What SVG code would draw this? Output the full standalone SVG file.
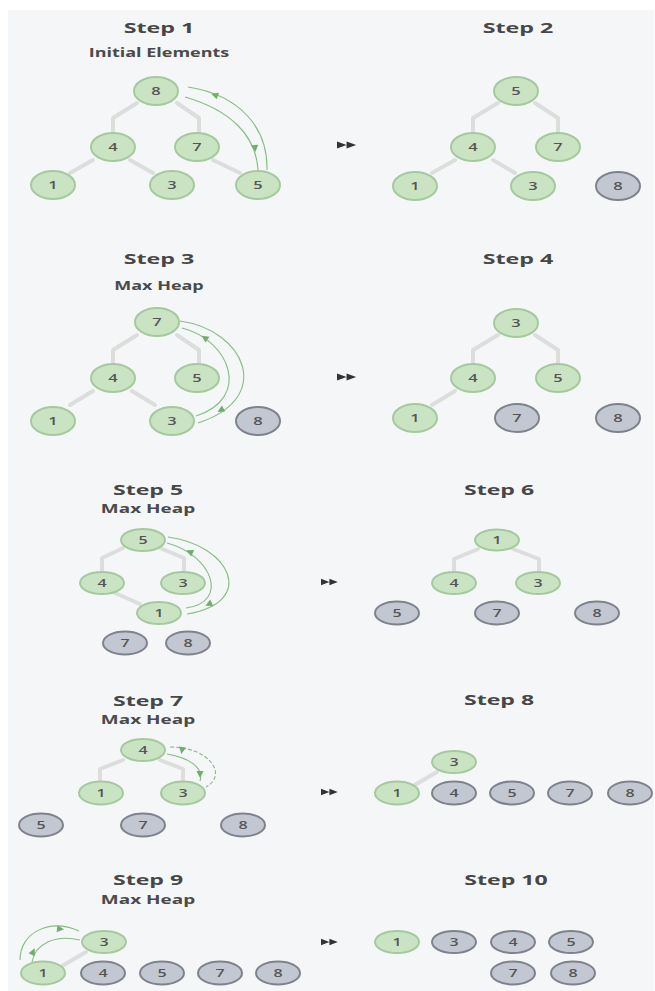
<svg xmlns="http://www.w3.org/2000/svg" xmlns:xlink="http://www.w3.org/1999/xlink" width="655" height="991" viewBox="0 0 655 991">
<style>
.bg{fill:#f5f6f8}
.edge{fill:none;stroke:#dcdedc;stroke-width:4;stroke-linejoin:round;stroke-linecap:round}
.arc{fill:none;stroke:#85bd83;stroke-width:1.1}
.ah{fill:#6fae6d}
.ff{fill:#333}
.g ellipse{fill:#cae3c3;stroke:#a5c99e;stroke-width:2}
.x ellipse{fill:#c3c7d1;stroke:#7e828c;stroke-width:2}
text{font-family:"Open Sans","DejaVu Sans",sans-serif;text-anchor:middle}
.t{font-size:15px;font-weight:700;fill:#474747}
.st{font-size:12px;font-weight:700;fill:#4a4a4a}
.t2{font-size:14px;font-weight:700;fill:#474747}
.st2{font-size:11.5px;font-weight:700;fill:#4a4a4a}
.n{font-size:11px;font-weight:600;fill:#555}
.n2{font-size:10px;font-weight:600;fill:#555}
</style>
<defs>
<path id="ah" d="M4,0 L-3,-3.5 L-3,3.5 Z"/>
<path id="ff" d="M0,-4 L8,0 L0,4 Z M8,-4 L16,0 L8,4 Z"/>
</defs>
<rect x="0" y="0" width="655" height="991" fill="#ffffff"/>
<rect class="bg" x="8" y="10" width="646" height="981"/>

<g id="titles">
<text class="t" transform="translate(159,33) scale(1.55,1)">Step 1</text>
<text class="st" transform="translate(159,57) scale(1.5,1)">Initial Elements</text>
<text class="t" transform="translate(518,33) scale(1.55,1)">Step 2</text>
<text class="t" transform="translate(159,264) scale(1.55,1)">Step 3</text>
<text class="st" transform="translate(159,290) scale(1.5,1)">Max Heap</text>
<text class="t" transform="translate(518,264) scale(1.55,1)">Step 4</text>
<text class="t2" transform="translate(148,495) scale(1.65,1)">Step 5</text>
<text class="st2" transform="translate(148,513) scale(1.65,1)">Max Heap</text>
<text class="t2" transform="translate(499,495) scale(1.65,1)">Step 6</text>
<text class="t2" transform="translate(148,706) scale(1.65,1)">Step 7</text>
<text class="st2" transform="translate(148,724) scale(1.65,1)">Max Heap</text>
<text class="t2" transform="translate(499,705) scale(1.65,1)">Step 8</text>
<text class="t2" transform="translate(148,885) scale(1.65,1)">Step 9</text>
<text class="st2" transform="translate(148,904) scale(1.65,1)">Max Heap</text>
<text class="t2" transform="translate(506,885) scale(1.65,1)">Step 10</text>
</g>

<g id="connectors">
<path class="edge" d="M137,103 L113,118 L113,133 M177,103 L199,118 L199,133 M93,160 L70,173 M130,160 L153,173 M213,160 L240,173"/>
<path class="edge" d="M498,103 L473,118 L473,133 M535,103 L558,118 L558,133 M455,160 L432,173 M493,160 L515,173"/>
<path class="edge" d="M137,335 L113,350 L113,364 M177,335 L199,350 L199,364 M93,391 L70,405 M132,391 L155,405"/>
<path class="edge" d="M498,335 L473,350 L473,364 M535,335 L558,350 L558,364 M455,391 L432,405"/>
<path class="edge" d="M123,548 L102,558 L102,571 M160,548 L184,558 L184,571 M115,593 L140,604"/>
<path class="edge" d="M478,549 L454,559 L454,571 M513,549 L539,559 L539,571"/>
<path class="edge" d="M123,760 L100,769 L100,781 M160,760 L183,769 L183,781"/>
<path class="edge" d="M437,772 L413,786"/>
<path class="edge" d="M86,952 L62,966"/>

<path class="arc" d="M188,87 C240,95 268,128 267,170"/>
<path class="arc" d="M185,97 C230,110 256,135 258,170"/>
<use href="#ah" class="ah" transform="translate(215,95) rotate(200)"/>
<use href="#ah" class="ah" transform="translate(255,148) rotate(85)"/>

<path class="arc" d="M180,321 C245,330 275,398 198,423"/>
<path class="arc" d="M182,328 C230,340 252,398 196,416"/>
<use href="#ah" class="ah" transform="translate(205,338) rotate(215)"/>
<use href="#ah" class="ah" transform="translate(221,410) rotate(150)"/>

<path class="arc" d="M168,537 C230,545 258,602 187,614"/>
<path class="arc" d="M167,543 C212,555 230,602 186,608"/>
<use href="#ah" class="ah" transform="translate(190,552) rotate(205)"/>
<use href="#ah" class="ah" transform="translate(209,604) rotate(155)"/>

<path class="arc" d="M170,747 C210,747 228,775 206,787" stroke-dasharray="4 2"/>
<path class="arc" d="M167,754 C190,758 204,768 200,781"/>
<use href="#ah" class="ah" transform="translate(182,750) rotate(100)"/>
<use href="#ah" class="ah" transform="translate(200,774) rotate(90)"/>

<path class="arc" d="M79,931 C50,918 20,932 20,960"/>
<path class="arc" d="M80,940 C55,934 35,944 32,962"/>
<use href="#ah" class="ah" transform="translate(60,929) rotate(5)"/>
<use href="#ah" class="ah" transform="translate(33,952) rotate(-65)"/>

<use href="#ff" class="ff" transform="translate(337,145) scale(1.2,0.85)"/>
<use href="#ff" class="ff" transform="translate(337,377) scale(1.2,0.85)"/>
<use href="#ff" class="ff" transform="translate(321,582) scale(1.05,0.8)"/>
<use href="#ff" class="ff" transform="translate(321,792) scale(1.05,0.8)"/>
<use href="#ff" class="ff" transform="translate(321,942) scale(1.05,0.8)"/>
</g>

<!-- Step 1 -->
<g id="s1-8" class="g"><ellipse cx="156" cy="91" rx="22" ry="14"/><text class="n" transform="translate(156,95) scale(1.5,1)">8</text></g>
<g id="s1-4" class="g"><ellipse cx="113" cy="147" rx="22" ry="14"/><text class="n" transform="translate(113,151) scale(1.5,1)">4</text></g>
<g id="s1-7" class="g"><ellipse cx="197" cy="147" rx="22" ry="14"/><text class="n" transform="translate(197,151) scale(1.5,1)">7</text></g>
<g id="s1-1" class="g"><ellipse cx="53" cy="185" rx="22" ry="14"/><text class="n" transform="translate(53,189) scale(1.5,1)">1</text></g>
<g id="s1-3" class="g"><ellipse cx="172" cy="185" rx="22" ry="14"/><text class="n" transform="translate(172,189) scale(1.5,1)">3</text></g>
<g id="s1-5" class="g"><ellipse cx="258" cy="185" rx="22" ry="14"/><text class="n" transform="translate(258,189) scale(1.5,1)">5</text></g>
<!-- Step 2 -->
<g id="s2-5" class="g"><ellipse cx="516" cy="91" rx="22" ry="14"/><text class="n" transform="translate(516,95) scale(1.5,1)">5</text></g>
<g id="s2-4" class="g"><ellipse cx="473" cy="147" rx="22" ry="14"/><text class="n" transform="translate(473,151) scale(1.5,1)">4</text></g>
<g id="s2-7" class="g"><ellipse cx="558" cy="147" rx="22" ry="14"/><text class="n" transform="translate(558,151) scale(1.5,1)">7</text></g>
<g id="s2-1" class="g"><ellipse cx="415" cy="186" rx="22" ry="14"/><text class="n" transform="translate(415,190) scale(1.5,1)">1</text></g>
<g id="s2-3" class="g"><ellipse cx="533" cy="186" rx="22" ry="14"/><text class="n" transform="translate(533,190) scale(1.5,1)">3</text></g>
<g id="s2-8" class="x"><ellipse cx="618" cy="186" rx="22" ry="14"/><text class="n" transform="translate(618,190) scale(1.5,1)">8</text></g>
<!-- Step 3 -->
<g id="s3-7" class="g"><ellipse cx="157" cy="322" rx="22" ry="14"/><text class="n" transform="translate(157,326) scale(1.5,1)">7</text></g>
<g id="s3-4" class="g"><ellipse cx="113" cy="378" rx="22" ry="14"/><text class="n" transform="translate(113,382) scale(1.5,1)">4</text></g>
<g id="s3-5" class="g"><ellipse cx="197" cy="378" rx="22" ry="14"/><text class="n" transform="translate(197,382) scale(1.5,1)">5</text></g>
<g id="s3-1" class="g"><ellipse cx="53" cy="421" rx="22" ry="14"/><text class="n" transform="translate(53,425) scale(1.5,1)">1</text></g>
<g id="s3-3" class="g"><ellipse cx="172" cy="421" rx="22" ry="14"/><text class="n" transform="translate(172,425) scale(1.5,1)">3</text></g>
<g id="s3-8" class="x"><ellipse cx="258" cy="421" rx="22" ry="14"/><text class="n" transform="translate(258,425) scale(1.5,1)">8</text></g>
<!-- Step 4 -->
<g id="s4-3" class="g"><ellipse cx="516" cy="323" rx="22" ry="14"/><text class="n" transform="translate(516,327) scale(1.5,1)">3</text></g>
<g id="s4-4" class="g"><ellipse cx="473" cy="378" rx="22" ry="14"/><text class="n" transform="translate(473,382) scale(1.5,1)">4</text></g>
<g id="s4-5" class="g"><ellipse cx="558" cy="378" rx="22" ry="14"/><text class="n" transform="translate(558,382) scale(1.5,1)">5</text></g>
<g id="s4-1" class="g"><ellipse cx="415" cy="418" rx="22" ry="14"/><text class="n" transform="translate(415,422) scale(1.5,1)">1</text></g>
<g id="s4-7" class="x"><ellipse cx="517" cy="418" rx="22" ry="14"/><text class="n" transform="translate(517,422) scale(1.5,1)">7</text></g>
<g id="s4-8" class="x"><ellipse cx="618" cy="418" rx="22" ry="14"/><text class="n" transform="translate(618,422) scale(1.5,1)">8</text></g>
<!-- Step 5 -->
<g id="s5-5" class="g"><ellipse cx="143" cy="540" rx="22" ry="11"/><text class="n2" transform="translate(143,543.5) scale(1.6,1)">5</text></g>
<g id="s5-4" class="g"><ellipse cx="102" cy="583" rx="22" ry="11"/><text class="n2" transform="translate(102,586.5) scale(1.6,1)">4</text></g>
<g id="s5-3" class="g"><ellipse cx="183" cy="583" rx="22" ry="11"/><text class="n2" transform="translate(183,586.5) scale(1.6,1)">3</text></g>
<g id="s5-1" class="g"><ellipse cx="159" cy="613" rx="22" ry="11"/><text class="n2" transform="translate(159,616.5) scale(1.6,1)">1</text></g>
<g id="s5-7" class="x"><ellipse cx="125" cy="643" rx="22" ry="11.5"/><text class="n2" transform="translate(125,646.5) scale(1.6,1)">7</text></g>
<g id="s5-8" class="x"><ellipse cx="188" cy="643" rx="22" ry="11.5"/><text class="n2" transform="translate(188,646.5) scale(1.6,1)">8</text></g>
<!-- Step 6 -->
<g id="s6-1" class="g"><ellipse cx="497" cy="540" rx="22" ry="10.5"/><text class="n2" transform="translate(497,543.5) scale(1.6,1)">1</text></g>
<g id="s6-4" class="g"><ellipse cx="454" cy="583" rx="22" ry="11"/><text class="n2" transform="translate(454,586.5) scale(1.6,1)">4</text></g>
<g id="s6-3" class="g"><ellipse cx="538" cy="583" rx="22" ry="11"/><text class="n2" transform="translate(538,586.5) scale(1.6,1)">3</text></g>
<g id="s6-5" class="x"><ellipse cx="397" cy="613" rx="22" ry="11.5"/><text class="n2" transform="translate(397,616.5) scale(1.6,1)">5</text></g>
<g id="s6-7" class="x"><ellipse cx="497" cy="613" rx="22" ry="11.5"/><text class="n2" transform="translate(497,616.5) scale(1.6,1)">7</text></g>
<g id="s6-8" class="x"><ellipse cx="597" cy="613" rx="22" ry="11.5"/><text class="n2" transform="translate(597,616.5) scale(1.6,1)">8</text></g>
<!-- Step 7 -->
<g id="s7-4" class="g"><ellipse cx="143" cy="750" rx="22" ry="11"/><text class="n2" transform="translate(143,753.5) scale(1.6,1)">4</text></g>
<g id="s7-1" class="g"><ellipse cx="101" cy="793" rx="22" ry="11.5"/><text class="n2" transform="translate(101,796.5) scale(1.6,1)">1</text></g>
<g id="s7-3" class="g"><ellipse cx="183" cy="793" rx="22" ry="11.5"/><text class="n2" transform="translate(183,796.5) scale(1.6,1)">3</text></g>
<g id="s7-5" class="x"><ellipse cx="41" cy="825" rx="22" ry="11.5"/><text class="n2" transform="translate(41,828.5) scale(1.6,1)">5</text></g>
<g id="s7-7" class="x"><ellipse cx="143" cy="825" rx="22" ry="11.5"/><text class="n2" transform="translate(143,828.5) scale(1.6,1)">7</text></g>
<g id="s7-8" class="x"><ellipse cx="243" cy="825" rx="22" ry="11.5"/><text class="n2" transform="translate(243,828.5) scale(1.6,1)">8</text></g>
<!-- Step 8 -->
<g id="s8-3" class="g"><ellipse cx="454" cy="762" rx="22" ry="11"/><text class="n2" transform="translate(454,765.5) scale(1.6,1)">3</text></g>
<g id="s8-1" class="g"><ellipse cx="397" cy="793" rx="22" ry="11.5"/><text class="n2" transform="translate(397,796.5) scale(1.6,1)">1</text></g>
<g id="s8-4" class="x"><ellipse cx="454" cy="793" rx="22" ry="11.5"/><text class="n2" transform="translate(454,796.5) scale(1.6,1)">4</text></g>
<g id="s8-5" class="x"><ellipse cx="512" cy="793" rx="22" ry="11.5"/><text class="n2" transform="translate(512,796.5) scale(1.6,1)">5</text></g>
<g id="s8-7" class="x"><ellipse cx="570" cy="793" rx="22" ry="11.5"/><text class="n2" transform="translate(570,796.5) scale(1.6,1)">7</text></g>
<g id="s8-8" class="x"><ellipse cx="630" cy="793" rx="22" ry="11.5"/><text class="n2" transform="translate(630,796.5) scale(1.6,1)">8</text></g>
<!-- Step 9 -->
<g id="s9-3" class="g"><ellipse cx="104" cy="942" rx="22" ry="11"/><text class="n2" transform="translate(104,945.5) scale(1.6,1)">3</text></g>
<g id="s9-1" class="g"><ellipse cx="43" cy="973" rx="22" ry="11.5"/><text class="n2" transform="translate(43,976.5) scale(1.6,1)">1</text></g>
<g id="s9-4" class="x"><ellipse cx="103" cy="973" rx="22" ry="11.5"/><text class="n2" transform="translate(103,976.5) scale(1.6,1)">4</text></g>
<g id="s9-5" class="x"><ellipse cx="162" cy="973" rx="22" ry="11.5"/><text class="n2" transform="translate(162,976.5) scale(1.6,1)">5</text></g>
<g id="s9-7" class="x"><ellipse cx="220" cy="973" rx="22" ry="11.5"/><text class="n2" transform="translate(220,976.5) scale(1.6,1)">7</text></g>
<g id="s9-8" class="x"><ellipse cx="278" cy="973" rx="22" ry="11.5"/><text class="n2" transform="translate(278,976.5) scale(1.6,1)">8</text></g>
<!-- Step 10 -->
<g id="s10-1" class="g"><ellipse cx="397" cy="942" rx="22" ry="11"/><text class="n2" transform="translate(397,945.5) scale(1.6,1)">1</text></g>
<g id="s10-3" class="x"><ellipse cx="454" cy="942" rx="22" ry="11"/><text class="n2" transform="translate(454,945.5) scale(1.6,1)">3</text></g>
<g id="s10-4" class="x"><ellipse cx="513" cy="942" rx="22" ry="11"/><text class="n2" transform="translate(513,945.5) scale(1.6,1)">4</text></g>
<g id="s10-5" class="x"><ellipse cx="571" cy="942" rx="22" ry="11"/><text class="n2" transform="translate(571,945.5) scale(1.6,1)">5</text></g>
<g id="s10-7" class="x"><ellipse cx="513" cy="973" rx="22" ry="11.5"/><text class="n2" transform="translate(513,976.5) scale(1.6,1)">7</text></g>
<g id="s10-8" class="x"><ellipse cx="573" cy="973" rx="22" ry="11.5"/><text class="n2" transform="translate(573,976.5) scale(1.6,1)">8</text></g>
</svg>
